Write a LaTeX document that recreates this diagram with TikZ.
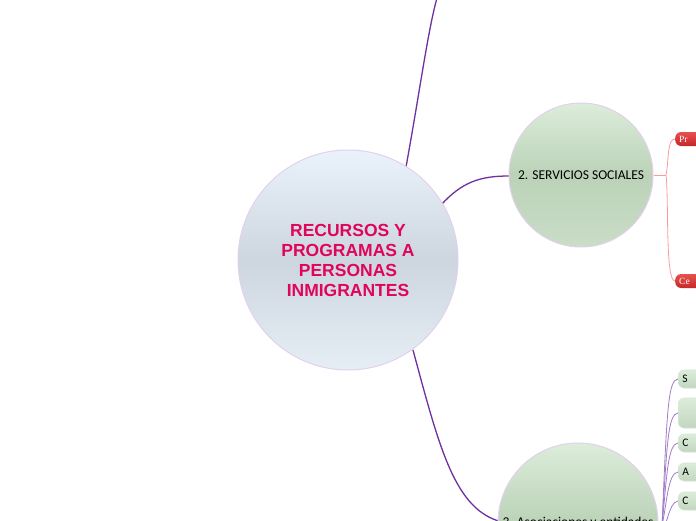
\documentclass[tikz,border=0pt]{standalone}
\usepackage{fontspec}
\setmainfont{Liberation Sans}
\newfontfamily\calfont{Carlito}
\newfontfamily\serfont{Liberation Serif}
\usetikzlibrary{positioning,calc}
\definecolor{MapPurple}{HTML}{7030A0}
\definecolor{MapLilac}{HTML}{A27CCB}
\definecolor{MapRim}{HTML}{E2D0EC}
\definecolor{MapRose}{HTML}{E0055A}
\definecolor{MapRedTop}{HTML}{E85050}
\definecolor{MapRedBot}{HTML}{C42828}
\definecolor{MapPink}{HTML}{FF9A9A}
\definecolor{HubTop}{HTML}{EAF3FB}
\definecolor{HubMid}{HTML}{CDD6DF}
\definecolor{HubBot}{HTML}{E6EEF5}
\definecolor{LeafTop}{HTML}{DCEDDA}
\definecolor{LeafMid}{HTML}{BBD2B8}
\definecolor{LeafBot}{HTML}{CADDC7}
\tikzset{
  hubnode/.style={circle, draw=MapRim, line width=1pt, minimum size=220pt, inner sep=0pt,
    top color=HubTop, bottom color=HubBot, middle color=HubMid, align=center,
    font=\fontsize{17.5}{20}\selectfont\bfseries, text=MapRose},
  topicnode/.style={circle, draw=MapRim, line width=1pt, inner sep=0pt,
    top color=LeafTop, bottom color=LeafBot, middle color=LeafMid,
    font=\calfont\fontsize{13.5}{15}\selectfont, text=black},
  leafred/.style={rounded corners=6pt, minimum width=40pt, minimum height=14pt, inner sep=0pt,
    top color=MapRedTop, bottom color=MapRedBot, text=white, anchor=west,
    font=\serfont\fontsize{9.5}{10}\selectfont, text width=32pt, align=left},
  leafgreen/.style={rounded corners=6pt, minimum width=40pt, inner sep=0pt,
    draw=LeafBot!80!white, line width=0.6pt, top color=LeafTop, bottom color=LeafMid!90!white,
    text=black, anchor=west, font=\calfont\fontsize{11.5}{12}\selectfont, text width=32pt, align=left},
  mainline/.style={draw=MapPurple, line width=1.3pt},
  redline/.style={draw=MapPink, line width=0.8pt},
  lilacline/.style={draw=MapLilac, line width=0.8pt}
}
\begin{document}
\begin{tikzpicture}[x=1pt, y=-1pt]
\useasboundingbox (0,0) rectangle (696,520);
\clip (0,0) rectangle (696,520);
\fill[white] (0,0) rectangle (696,520);
% branch lines behind the circles
\coordinate (topend) at (437,-2);
\coordinate (hubtop) at (406,167);
\coordinate (hubright) at (441,205);
\coordinate (hubbot) at (413,350);
\coordinate (s2in) at (509,176);
\coordinate (s3in) at (502,522);
\draw[mainline] (hubtop) .. controls (420,90) and (428,30) .. (topend);
\draw[mainline] (hubright) .. controls (462,182) and (480,176) .. (s2in);
\draw[mainline] (hubbot) .. controls (440,450) and (455,510) .. (s3in);
% central topic
\node[hubnode] (hub) at (348,260) {RECURSOS Y\\PROGRAMAS A\\PERSONAS\\ INMIGRANTES};
% 2. servicios sociales
\node[topicnode, minimum size=144pt] (sociales) at (581,175) {2. SERVICIOS SOCIALES};
\coordinate (redfork) at (666,175);
\node[leafred] (pr) at (675,139) {Pr};
\node[leafred] (ce) at (675,281) {Ce};
\draw[redline] (sociales.east) -- (redfork);
\draw[redline] (redfork) .. controls (669,160) and (667,139) .. (pr.west);
\draw[redline] (redfork) .. controls (669,200) and (665,281) .. (ce.west);
% 3. asociaciones y entidades
\node[topicnode, minimum size=160pt] (asoc) at (578,523) {3. Asociaciones y entidades};
\coordinate (lilacfork) at (662,526);
\node[leafgreen, minimum height=18pt] (sa) at (678,379) {S};
\node[leafgreen, minimum height=30pt] (sb) at (678,413) {};
\node[leafgreen, minimum height=18pt] (sc) at (678,443) {C};
\node[leafgreen, minimum height=18pt] (sd) at (678,472) {A};
\node[leafgreen, minimum height=18pt] (se) at (678,501) {C};
\foreach \leaf in {sa,sb,sc,sd,se}
  \draw[lilacline] (lilacfork) .. controls ($(\leaf.west)+(-11,30)$) and ($(\leaf.west)+(-10,1)$) .. (\leaf.west);
\end{tikzpicture}
\end{document}
